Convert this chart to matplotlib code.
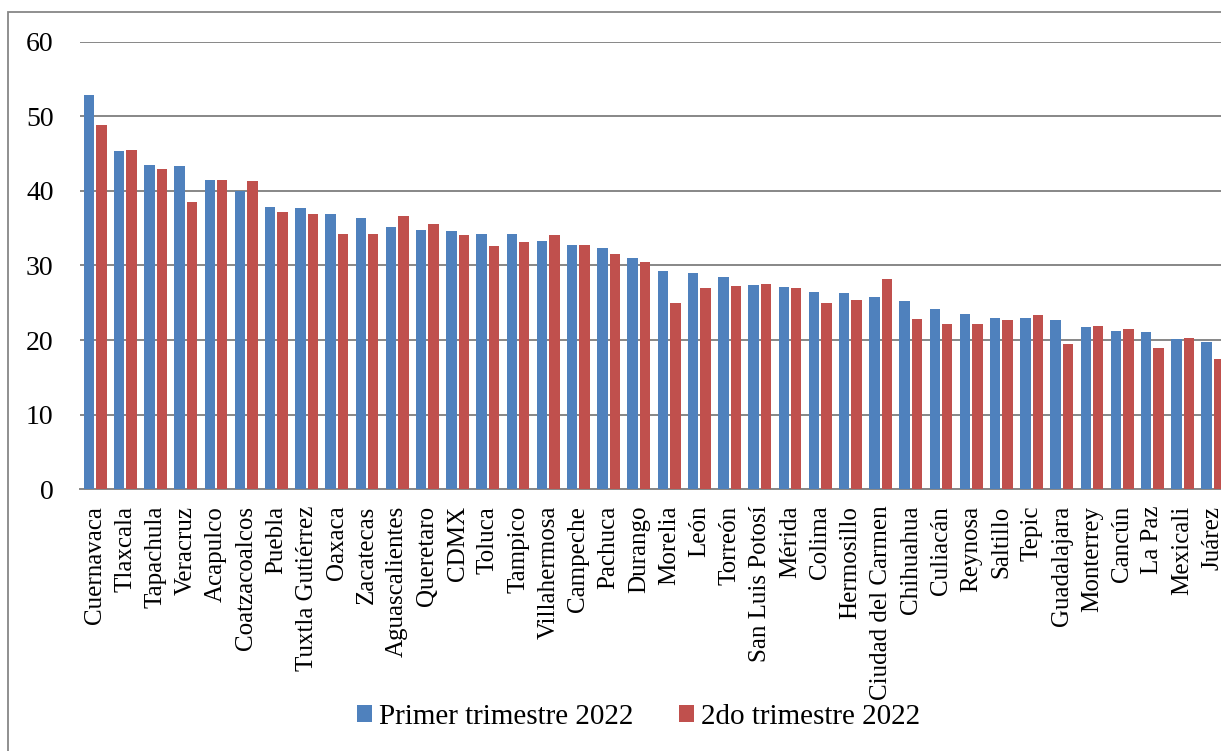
import matplotlib
matplotlib.use("Agg")
import matplotlib.pyplot as plt
import matplotlib.patches as mpatches
import numpy as np

ciudades = [
    "Cuernavaca", "Tlaxcala", "Tapachula", "Veracruz", "Acapulco",
    "Coatzacoalcos", "Puebla", "Tuxtla Gutiérrez", "Oaxaca", "Zacatecas",
    "Aguascalientes", "Queretaro", "CDMX", "Toluca", "Tampico",
    "Villahermosa", "Campeche", "Pachuca", "Durango", "Morelia",
    "León", "Torreón", "San Luis Potosí", "Mérida", "Colima",
    "Hermosillo", "Ciudad del Carmen", "Chihuahua", "Culiacán", "Reynosa",
    "Saltillo", "Tepic", "Guadalajara", "Monterrey", "Cancún",
    "La Paz", "Mexicali", "Juárez",
]

primer_trim = [
    52.9, 45.3, 43.5, 43.4, 41.4,
    40.0, 37.8, 37.7, 36.9, 36.4,
    35.1, 34.8, 34.6, 34.2, 34.2,
    33.3, 32.7, 32.3, 31.0, 29.2,
    29.0, 28.4, 27.4, 27.1, 26.4,
    26.3, 25.8, 25.2, 24.1, 23.5,
    23.0, 23.0, 22.7, 21.8, 21.2,
    21.1, 20.1, 19.7,
]

segundo_trim = [
    48.8, 45.5, 42.9, 38.5, 41.5,
    41.3, 37.2, 36.9, 34.2, 34.2,
    36.6, 35.5, 34.1, 32.6, 33.2,
    34.1, 32.7, 31.5, 30.5, 25.0,
    27.0, 27.2, 27.5, 27.0, 24.9,
    25.4, 28.2, 22.8, 22.1, 22.1,
    22.7, 23.3, 19.5, 21.9, 21.5,
    18.9, 20.3, 17.5,
]

serie_1 = "Primer trimestre 2022"
serie_2 = "2do trimestre 2022"

azul = "#4F81BD"
rojo = "#C0504D"
gris = "#878787"

plt.rcParams["font.family"] = ["Liberation Serif", "DejaVu Serif"]

W, H = 1230, 751
fig = plt.figure(figsize=(W / 100, H / 100), dpi=100)
ax = fig.add_axes([80 / W, 1 - 489.2 / H, 1148 / W, (489.2 - 41.7) / H])

x = np.arange(len(ciudades))
ancho = 0.345
ax.bar(x - 0.205, primer_trim, ancho, color=azul, edgecolor="none",
       label=serie_1, zorder=3)
ax.bar(x + 0.205, segundo_trim, ancho, color=rojo, edgecolor="none",
       label=serie_2, zorder=3)

ax.set_xlim(-0.5, len(ciudades) - 0.5)
ax.set_ylim(0, 60)
ax.set_yticks(range(0, 61, 10))
ax.yaxis.grid(True, color=gris, linewidth=1.4, zorder=0)
ax.set_axisbelow(True)

for lado in ["left", "right", "top"]:
    ax.spines[lado].set_visible(False)
ax.spines["bottom"].set_color(gris)
ax.spines["bottom"].set_linewidth(1.4)

ax.set_xticks(x)
ax.set_xticklabels(ciudades, rotation=90, fontsize=18)
ax.tick_params(axis="x", length=0, pad=12)
ax.tick_params(axis="y", length=0, pad=19, labelsize=20)

leg = fig.legend(loc="center", bbox_to_anchor=(0.519, 1 - 717 / H), ncol=2,
                 frameon=False, fontsize=21, handlelength=0.52,
                 handleheight=0.52, handletextpad=0.25, columnspacing=1.55)

# marco exterior del gráfico
fig.patches.append(mpatches.Rectangle(
    (8 / W, -0.05), 1.2, 1.05 - 12 / H, transform=fig.transFigure,
    fill=False, edgecolor=gris, linewidth=1.3, zorder=0))

# franja blanca del borde derecho
fig.patches.append(mpatches.Rectangle(
    (1221 / W, 0), 1, 1, transform=fig.transFigure,
    facecolor="white", edgecolor="none", zorder=10))

fig.savefig("out.png", dpi=100)
